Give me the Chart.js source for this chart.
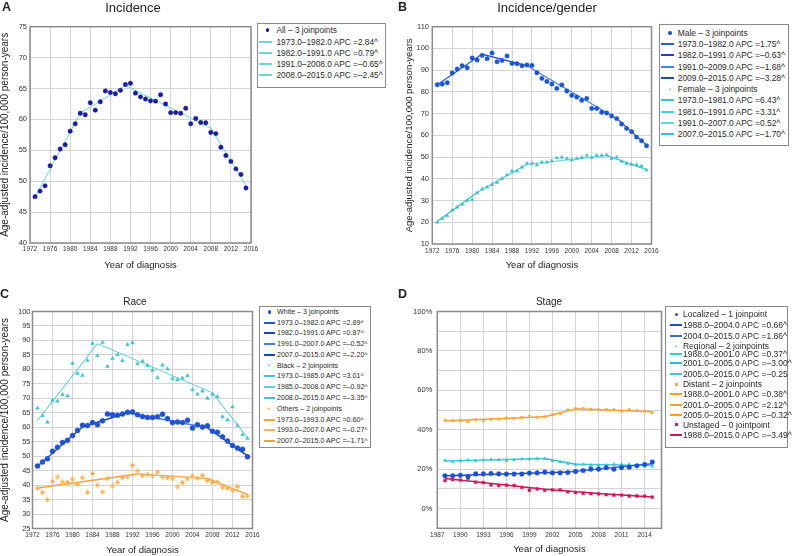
<!DOCTYPE html>
<html>
<head>
<meta charset="utf-8">
<script src="https://cdn.jsdelivr.net/npm/chart.js@4.4.1/dist/chart.umd.min.js"></script>
<style>
  body { margin: 0; background: #fff; font-family: "Liberation Sans", Arial, sans-serif; color: #222; }
  #wrap { position: relative; width: 792px; height: 556px; overflow: hidden; }
  canvas { position: absolute; }
  .lbl { position: absolute; font-weight: bold; font-size: 12.5px; line-height: 12px; }
  .ttl { position: absolute; transform: translate(-50%, -50%); white-space: nowrap; line-height: 1; }
  .legend { position: absolute; border: 1.5px solid #8a8a8a; background: #fff; }
  .legend div { position: absolute; white-space: nowrap; color: #2a2a2a; }
</style>
</head>
<body>
<div id="wrap">
  <canvas id="cA" width="396" height="278" style="left:0;top:0"></canvas>
  <canvas id="cB" width="396" height="278" style="left:396px;top:0"></canvas>
  <canvas id="cC" width="396" height="278" style="left:0;top:278px"></canvas>
  <canvas id="cD" width="396" height="278" style="left:396px;top:278px"></canvas>
  <div class="lbl" style="left:2px;top:1px">A</div>
  <div class="lbl" style="left:398px;top:1px">B</div>
  <div class="lbl" style="left:0;top:288px">C</div>
  <div class="lbl" style="left:398px;top:288px">D</div>
  <div class="ttl" style="left:133px;top:7px;font-size:13px">Incidence</div>
  <div class="ttl" style="left:547px;top:7px;font-size:13px">Incidence/gender</div>
  <div class="ttl" style="left:135px;top:302px;font-size:10px">Race</div>
  <div class="ttl" style="left:549px;top:302px;font-size:10px">Stage</div>
</div>
<script>
// years of diagnosis
const years = [1973, 1974, 1975, 1976, 1977, 1978, 1979, 1980, 1981, 1982,
  1983, 1984, 1985, 1986, 1987, 1988, 1989, 1990, 1991, 1992,
  1993, 1994, 1995, 1996, 1997, 1998, 1999, 2000, 2001, 2002,
  2003, 2004, 2005, 2006, 2007, 2008, 2009, 2010, 2011, 2012,
  2013, 2014, 2015];
const yearsStage = [1988, 1989, 1990, 1991, 1992, 1993, 1994, 1995, 1996, 1997,
  1998, 1999, 2000, 2001, 2002, 2003, 2004, 2005, 2006, 2007,
  2008, 2009, 2010, 2011, 2012, 2013, 2014, 2015];

// tick labels
const yearTicks = [1972, 1976, 1980, 1984, 1988, 1992, 1996, 2000, 2004, 2008, 2012, 2016];
const yearTicksStage = [1987, 1990, 1993, 1996, 1999, 2002, 2005, 2008, 2011, 2014];
const ticksA = [40, 45, 50, 55, 60, 65, 70, 75];
const ticksB = [10, 20, 30, 40, 50, 60, 70, 80, 90, 100, 110];
const ticksC = [25, 30, 35, 40, 45, 50, 55, 60, 65, 70, 75, 80, 85, 90, 95, 100];
const ticksD = [-10, 0, 10, 20, 30, 40, 50, 60, 70, 80, 90, 100];

// A - incidence, all
const allRate = [47.5, 48.4, 49.25, 52.5, 53.8, 55.2, 55.9, 58.1, 59.3, 61.0,
  60.75, 62.7, 61.5, 62.85, 64.6, 64.35, 64.15, 64.7, 65.65, 65.85,
  64.25, 63.65, 63.3, 63.0, 62.95, 64.0, 62.5, 61.1, 61.1, 61.0,
  61.8, 59.3, 60.15, 59.5, 59.45, 57.9, 57.7, 55.5, 54.15, 53.2,
  52.0, 51.1, 48.9];
const allJoinYears = [1973, 1982, 1991, 2008, 2015];
const allFit = [47.4, 61.0, 65.5, 58.6, 49.3];
const allSegs = ['1973.0–1982.0 APC =2.84^', '1982.0–1991.0 APC =0.79^',
  '1991.0–2008.0 APC =–0.65^', '2008.0–2015.0 APC =–2.45^'];

// B - gender
const maleRate = [83.3, 83.6, 84.2, 88.7, 90.5, 92.05, 91.1, 95.6, 94.7, 96.8,
  95.3, 97.9, 93.9, 94.5, 96.5, 93.1, 93.0, 92.05, 92.4, 92.2,
  88.8, 86.2, 84.8, 83.6, 81.6, 83.2, 80.4, 78.4, 77.6, 76.1,
  77.0, 72.4, 72.4, 70.6, 70.3, 68.9, 67.7, 65.2, 63.2, 61.7,
  59.2, 57.5, 55.2];
const maleJoinYears = [1973, 1982, 1991, 2009, 2015];
const maleFit = [83.3, 97.4, 92.0, 67.8, 55.5];
const maleSegs = ['1973.0–1982.0 APC =1.75^', '1982.0–1991.0 APC =–0.63^',
  '1991.0–2009.0 APC =–1.68^', '2009.0–2015.0 APC =–3.28^'];
const femaleRate = [20.0, 21.7, 23.0, 25.5, 26.9, 28.3, 30.0, 30.4, 33.6, 35.3,
  36.2, 37.3, 38.3, 40.1, 41.8, 43.6, 43.6, 45.3, 47.0, 47.0,
  46.4, 47.6, 47.6, 48.2, 49.6, 49.9, 49.3, 48.7, 49.3, 49.8,
  50.7, 49.8, 50.8, 50.8, 51.0, 49.3, 49.9, 48.0, 47.1, 46.6,
  46.5, 45.9, 44.0];
const femaleJoinYears = [1973, 1981, 1991, 2007, 2015];
const femaleFit = [20.5, 33.7, 46.7, 50.7, 44.2];
const femaleSegs = ['1973.0–1981.0 APC =6.43^', '1981.0–1991.0 APC =3.31^',
  '1991.0–2007.0 APC =0.52^', '2007.0–2015.0 APC =–1.70^'];

// C - race
const whiteRate = [46.6, 48.0, 49.1, 51.7, 53.1, 54.7, 55.5, 57.1, 58.9, 60.7,
  60.6, 61.6, 60.9, 62.2, 64.6, 64.3, 64.1, 64.6, 65.2, 65.3,
  64.3, 63.7, 63.4, 63.4, 63.6, 64.5, 63.0, 61.6, 61.8, 61.6,
  62.4, 59.7, 60.9, 60.1, 60.5, 58.6, 58.3, 56.7, 55.2, 53.7,
  52.8, 52.4, 49.8];
const whiteJoinYears = [1973, 1982, 1991, 2007, 2015];
const whiteFit = [46.5, 60.1, 65.0, 59.8, 50.1];
const whiteSegs = ['1973.0–1982.0 APC =2.89^', '1982.0–1991.0 APC =0.87^',
  '1991.0–2007.0 APC =–0.52^', '2007.0–2015.0 APC =–2.20^'];
const blackRate = [66.6, 64.0, 61.8, 69.3, 69.0, 71.3, 70.8, 82.1, 78.6, 77.9,
  83.1, 89.0, 84.7, 89.3, 81.0, 83.8, 85.1, 83.0, 88.5, 89.2,
  82.0, 82.8, 81.4, 79.7, 77.1, 81.5, 80.2, 76.8, 76.4, 77.0,
  77.8, 73.0, 71.4, 72.5, 70.0, 71.4, 70.6, 63.6, 62.5, 67.1,
  60.6, 57.4, 56.1];
const blackJoinYears = [1973, 1985, 2008, 2015];
const blackFit = [62.3, 88.9, 71.9, 56.3];
const blackSegs = ['1973.0–1985.0 APC =3.01^', '1985.0–2008.0 APC =–0.92^',
  '2008.0–2015.0 APC =–3.35^'];
const otherRate = [38.9, 37.4, 34.9, 41.3, 42.8, 41.1, 40.9, 42.1, 40.2, 42.5,
  37.5, 44.0, 40.0, 37.6, 42.3, 39.7, 41.0, 42.6, 42.8, 46.8,
  44.9, 43.3, 43.7, 43.2, 44.5, 42.8, 42.6, 42.2, 39.4, 40.9,
  42.2, 43.2, 42.4, 43.4, 41.6, 40.9, 41.1, 39.1, 38.9, 38.2,
  39.5, 36.1, 36.2];
const otherJoinYears = [1973, 1993, 2007, 2015];
const otherFit = [39.0, 43.8, 42.3, 36.7];
const otherSegs = ['1973.0–1993.0 APC =0.60^', '1993.0–2007.0 APC =–0.27^',
  '2007.0–2015.0 APC =–1.71^'];

// D - stage (%)
const localPct = [16.6, 16.6, 16.9, 16.3, 17.6, 17.6, 17.8, 17.6, 17.5, 17.5,
  17.5, 18.0, 18.1, 18.5, 18.1, 18.1, 18.3, 18.8, 19.3, 20.0,
  20.0, 20.7, 20.0, 20.8, 21.0, 21.7, 22.4, 23.6];
const localJoinYears = [1988, 2004, 2015];
const localFit = [16.7, 18.6, 22.8];
const localSegs = ['1988.0–2004.0 APC =0.66^', '2004.0–2015.0 APC =1.86^'];
const regionalPct = [24.4, 23.7, 24.2, 24.6, 24.1, 24.6, 24.9, 24.7, 24.4, 24.7,
  25.1, 25.1, 25.3, 25.4, 24.1, 23.7, 22.9, 22.4, 22.4, 22.0,
  22.0, 22.0, 22.5, 22.5, 22.4, 21.7, 21.5, 21.4];
const regionalJoinYears = [1988, 2001, 2005, 2015];
const regionalFit = [24.2, 25.4, 22.5, 21.9];
const regionalSegs = ['1988.0–2001.0 APC =0.37^', '2001.0–2005.0 APC =–3.00^',
  '2005.0–2015.0 APC =–0.25'];
const distantPct = [44.9, 44.7, 44.6, 44.2, 45.1, 44.7, 45.3, 45.4, 45.9, 45.8,
  46.3, 46.8, 46.3, 46.6, 47.6, 48.3, 50.0, 50.7, 50.8, 50.3,
  50.2, 50.2, 50.2, 49.5, 50.2, 49.7, 49.5, 48.6];
const distantJoinYears = [1988, 2001, 2005, 2015];
const distantFit = [44.4, 46.6, 50.6, 49.1];
const distantSegs = ['1988.0–2001.0 APC =0.38^', '2001.0–2005.0 APC =2.12^',
  '2005.0–2015.0 APC =–0.32^'];
const unstagedPct = [14.2, 14.7, 14.4, 15.3, 13.4, 13.2, 12.0, 11.7, 11.9, 11.7,
  10.8, 9.3, 10.0, 9.2, 9.5, 9.5, 8.5, 8.1, 7.8, 7.6,
  7.5, 7.1, 6.8, 6.8, 6.4, 6.4, 6.3, 5.8];
const unstagedFitYears = [1988, 1995, 2001, 2008, 2015];
const unstagedFit = [15.3, 12.4, 9.8, 7.6, 5.9];

Chart.defaults.font.family = '"Liberation Sans", Arial, sans-serif';
Chart.defaults.color = '#333';

function points(label, xs, ys, color, style, r) {
  return {
    label, showLine: false, pointStyle: style, pointRadius: r,
    data: xs.map((x, i) => ({ x, y: ys[i] })),
    borderColor: color, backgroundColor: color,
    pointBorderWidth: style === 'star' ? 1 : 0.5
  };
}

function segments(labels, jx, jy, colors, width) {
  return labels.map((label, i) => ({
    label, showLine: true, pointRadius: 0, borderWidth: width,
    borderColor: colors[i], backgroundColor: colors[i],
    data: [{ x: jx[i], y: jy[i] }, { x: jx[i + 1], y: jy[i + 1] }]
  }));
}

const frame = {
  id: 'frame',
  beforeDatasetsDraw(chart) {
    const { ctx, chartArea: a } = chart;
    ctx.save();
    ctx.strokeStyle = '#8c8c8c';
    ctx.lineWidth = 1.5;
    ctx.strokeRect(a.left, a.top, a.right - a.left, a.bottom - a.top);
    ctx.restore();
  }
};

function panel(id, o) {
  return new Chart(document.getElementById(id), {
    type: 'scatter',
    data: { datasets: o.datasets },
    plugins: [frame],
    options: {
      responsive: false, animation: false, devicePixelRatio: 1,
      layout: { padding: o.pad },
      plugins: { legend: { display: false }, tooltip: { enabled: false } },
      scales: {
        x: {
          min: o.xmin, max: o.xmax,
          afterFit: s => { s.height = o.xh; },
          afterBuildTicks: s => { s.ticks = o.xticks.map(v => ({ value: v })); },
          grid: { color: '#d4d4d4', drawTicks: false },
          border: { display: false },
          ticks: { autoSkip: false, maxRotation: 0, padding: o.xtp, font: { size: 6.5 }, callback: v => String(v) },
          title: { display: true, text: 'Year of diagnosis', color: '#222', font: { size: 9.5, lineHeight: 1 }, padding: { top: 0, bottom: o.xtitle } }
        },
        y: {
          min: o.ymin, max: o.ymax,
          afterFit: s => { s.width = o.yw; },
          afterBuildTicks: s => { s.ticks = o.yticks.map(v => ({ value: v })); },
          grid: { color: '#d4d4d4', drawTicks: false },
          border: { display: false },
          ticks: { autoSkip: false, padding: o.ytp, font: { size: 7.5 }, callback: o.ylabel || (v => String(v)) },
          title: { display: !!o.ytitle, text: 'Age-adjusted incidence/100,000 person-years', color: '#222', font: { size: o.ytitleSize || 10, lineHeight: 1 }, padding: { top: o.ytitle || 0, bottom: 0 } }
        }
      }
    }
  });
}

// html legend built from the chart's own datasets
function legend(chart, b) {
  const bw = 1.5;
  const el = document.createElement('div');
  el.className = 'legend';
  Object.assign(el.style, { left: b.x + 'px', top: b.y + 'px', width: (b.w - 2 * bw) + 'px', height: (b.h - 2 * bw) + 'px' });
  chart.data.datasets.forEach((ds, i) => {
    const cy = (b.rows ? b.rows[i] : b.row0 + i * b.rowH) - b.y - bw;
    const m = document.createElement('div');
    const c = ds.borderColor;
    if (ds.showLine) {
      Object.assign(m.style, { left: (b.lx - b.x - bw) + 'px', top: (cy - 1) + 'px', width: b.lw + 'px', height: '2px', background: c });
    } else if (ds.pointStyle === 'triangle') {
      Object.assign(m.style, { left: (b.dx - b.x - bw - 1.5) + 'px', top: (cy - 1.5) + 'px', width: 0, height: 0,
        borderLeft: '1.5px solid transparent', borderRight: '1.5px solid transparent', borderBottom: '2.6px solid ' + c });
    } else if (ds.pointStyle === 'star') {
      m.textContent = '*';
      Object.assign(m.style, { left: (b.dx - b.x - bw - 2.5) + 'px', top: (cy - 3) + 'px', color: c, fontSize: '9px', lineHeight: '9px' });
    } else {
      const r = ds.pointStyle === 'rect' ? 1.5 : 1.8;
      Object.assign(m.style, { left: (b.dx - b.x - bw - r) + 'px', top: (cy - r) + 'px', width: 2 * r + 'px', height: 2 * r + 'px',
        background: c, borderRadius: ds.pointStyle === 'rect' ? '0' : '50%' });
    }
    el.appendChild(m);
    const t = document.createElement('div');
    t.textContent = ds.label;
    Object.assign(t.style, { left: (b.tx - b.x - bw) + 'px', top: (cy - 5) + 'px', fontSize: b.fs + 'px', lineHeight: '10px' });
    el.appendChild(t);
  });
  document.getElementById('wrap').appendChild(el);
}

const tealA = '#6fd6d2';
const chartA = panel('cA', {
  datasets: [
    points('All – 3 joinpoints', years, allRate, '#1b1ba3', 'circle', 2.2),
    ...segments(allSegs, allJoinYears, allFit, [tealA, tealA, tealA, tealA], 1)
  ],
  pad: { left: 0, top: 26.7, right: 145, bottom: 0 },
  xmin: 1972, xmax: 2016, xticks: yearTicks, xh: 35, xtp: 2.6, xtitle: 8.2,
  ymin: 40, ymax: 75, yticks: ticksA, yw: 30, ytp: 3, ytitle: 0.01
});
legend(chartA, { x: 256.7, y: 22.7, w: 130.6, h: 66, row0: 30.8, rowH: 11.3, lx: 260, lw: 12.5, dx: 268, tx: 277, fs: 8.3 });

const chartB = panel('cB', {
  datasets: [
    points('Male – 3 joinpoints', years, maleRate, '#1a56d8', 'circle', 2.2),
    ...segments(maleSegs, maleJoinYears, maleFit, ['#2a5fd6', '#1f45b8', '#4f82e6', '#1f45b8'], 1.2),
    points('Female – 3 joinpoints', years, femaleRate, '#3cbfd0', 'triangle', 2),
    ...segments(femaleSegs, femaleJoinYears, femaleFit, ['#35c4d6', '#45cfe0', '#6cd6e0', '#35c4d6'], 1.2)
  ],
  pad: { left: 0, top: 26.7, right: 140.5, bottom: 0 },
  xmin: 1972, xmax: 2016, xticks: yearTicks, xh: 34, xtp: 3, xtitle: 8.2,
  ymin: 10, ymax: 110, yticks: ticksB, yw: 36.3, ytp: 3.3, ytitle: 8.5, ytitleSize: 9.5
});
legend(chartB, { x: 659.3, y: 24, w: 130.5, h: 123, row0: 33.3, rowH: 11.27, lx: 662, lw: 13, dx: 670.7, tx: 678.3, fs: 8.4 });

const chartC = panel('cC', {
  datasets: [
    points('White – 3 joinpoints', years, whiteRate, '#1f52d4', 'circle', 2.5),
    ...segments(whiteSegs, whiteJoinYears, whiteFit, ['#2556d0', '#1d44b8', '#4a7ee4', '#1d44b8'], 1.5),
    points('Black – 2 joinpoints', years, blackRate, '#3ec2ce', 'triangle', 2.2),
    ...segments(blackSegs, blackJoinYears, blackFit, ['#3fc6d6', '#66ccd6', '#3fc6d6'], 1),
    points('Others – 2 joinpoints', years, otherRate, '#ffb24d', 'star', 2.5),
    ...segments(otherSegs, otherJoinYears, otherFit, ['#f7a23b', '#f5b060', '#f7a23b'], 1.5)
  ],
  pad: { left: 0, top: 33.5, right: 143.5, bottom: 0 },
  xmin: 1972, xmax: 2016, xticks: yearTicks, xh: 27.5, xtp: 2.8, xtitle: 0.6,
  ymin: 25, ymax: 100, yticks: ticksC, yw: 32.5, ytp: 2, ytitle: 0.01
});
legend(chartC, { x: 259, y: 305.7, w: 113.3, h: 143.3, row0: 312.3, rowH: 10.78, lx: 264, lw: 11.5, dx: 270, tx: 277.5, fs: 7.1 });

const chartD = panel('cD', {
  datasets: [
    points('Localized – 1 joinpoint', yearsStage, localPct, '#1a4fd6', 'circle', 2.3),
    ...segments(localSegs, localJoinYears, localFit, ['#1f4fc8', '#3a6fe0'], 1.5),
    points('Regional – 2 joinpoints', yearsStage, regionalPct, '#3ec4d2', 'triangle', 1.9),
    ...segments(regionalSegs, regionalJoinYears, regionalFit, ['#3fc8d8', '#35bccc', '#3fc8d8'], 1.5),
    points('Distant – 2 joinpoints', yearsStage, distantPct, '#f9a94a', 'rect', 1.7),
    ...segments(distantSegs, distantJoinYears, distantFit, ['#f5a02e', '#f5a02e', '#f5a02e'], 1.5),
    points('Unstaged – 0 jointpoint', yearsStage, unstagedPct, '#d41a5c', 'rect', 2),
    {
      label: '1988.0–2015.0 APC =–3.49^', showLine: true, pointRadius: 0, borderWidth: 1.5,
      borderColor: '#c8185a', backgroundColor: '#c8185a',
      data: unstagedFitYears.map((x, i) => ({ x, y: unstagedFit[i] }))
    }
  ],
  pad: { left: 0, top: 33.5, right: 130.5, bottom: 0 },
  xmin: 1987, xmax: 2016.2, xticks: yearTicksStage, xh: 27.7, xtp: 3.5, xtitle: 1.6,
  ymin: -10, ymax: 100, yticks: ticksD, yw: 41.3, ytp: 5,
  ylabel: v => (v >= 0 && v % 20 === 0) ? v + '%' : ''
});
legend(chartD, { x: 664.7, y: 306.3, w: 124.6, h: 143,
  rows: [315, 325.7, 336.7, 346.8, 355, 364, 374.3, 384.6, 394.8, 405.2, 415.6, 425.5, 435.8],
  lx: 670.5, lw: 12, dx: 677, tx: 683.5, fs: 8.5 });
</script>
</body>
</html>
